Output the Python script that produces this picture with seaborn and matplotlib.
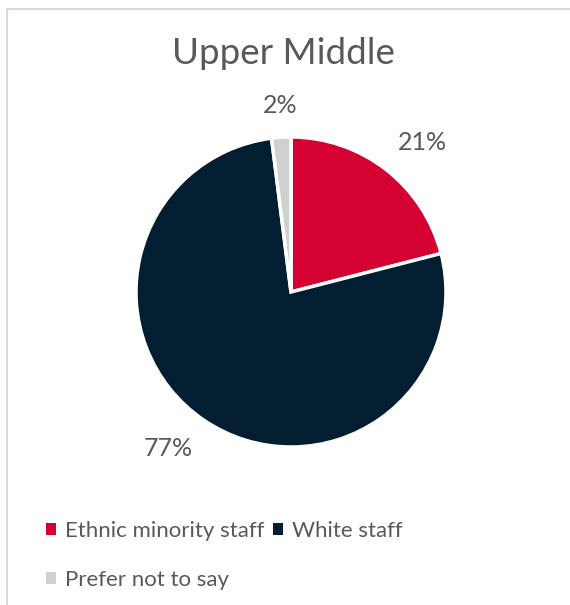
import matplotlib
matplotlib.use("Agg")
import numpy as np
import matplotlib.pyplot as plt
import seaborn as sns
from matplotlib.patches import Rectangle, Patch

categories = ["Ethnic minority staff", "White staff", "Prefer not to say"]
values = [21, 77, 2]
colors = ["#D50032", "#041E31", "#D0D0D0"]
title = "Upper Middle"

sns.set_theme(style="white")
plt.rcParams["font.family"] = ["Lato", "DejaVu Sans"]
text_color = "#595959"

W, H = 570, 605
fig = plt.figure(figsize=(W / 100, H / 100), dpi=100)

# border
fig.patches.append(Rectangle((7 / W, -0.2), 1.2, 1.2 - 9 / H, transform=fig.transFigure,
                             fill=False, edgecolor="#D9D9D9", linewidth=1.5))

cx, cy, r = 291, 292, 155
ax = fig.add_axes([(cx - r) / W, 1 - (cy + r) / H, 2 * r / W, 2 * r / H])
wedges, texts, autotexts = ax.pie(
    values, colors=colors, startangle=90, counterclock=False,
    autopct=lambda p: f"{p:.0f}%", pctdistance=1.2,
    wedgeprops=dict(edgecolor="white", linewidth=2.5),
    textprops=dict(color=text_color, fontsize=18))
d = 1.13
for w, t in zip(wedges, autotexts):
    ang = np.deg2rad((w.theta1 + w.theta2) / 2)
    x, y = np.cos(ang), np.sin(ang)
    t.set_position((d * x, d * y))
    t.set_ha("left" if x > 0.3 else "right" if x < -0.3 else "center")
    t.set_va("bottom" if y > 0.3 else "top" if y < -0.3 else "center")
ax.set_xlim(-1, 1)
ax.set_ylim(-1, 1)
ax.set_aspect("equal")
ax.axis("off")

fig.text(283 / W, 1 - 54 / H, title, ha="center", va="center",
         fontsize=26.5, color=text_color)

handles = [Patch(facecolor=c, edgecolor="none") for c in colors]
order = [0, 2, 1]
leg = fig.legend([handles[i] for i in order], [categories[i] for i in order],
                 ncol=2, loc="upper left", bbox_to_anchor=(35 / W, 1 - 510 / H),
                 frameon=False, fontsize=16, labelcolor=text_color,
                 handlelength=0.45, handleheight=0.45, handletextpad=0.4,
                 columnspacing=0.4, labelspacing=1.3, borderpad=0)

fig.savefig("out.png", dpi=100)
